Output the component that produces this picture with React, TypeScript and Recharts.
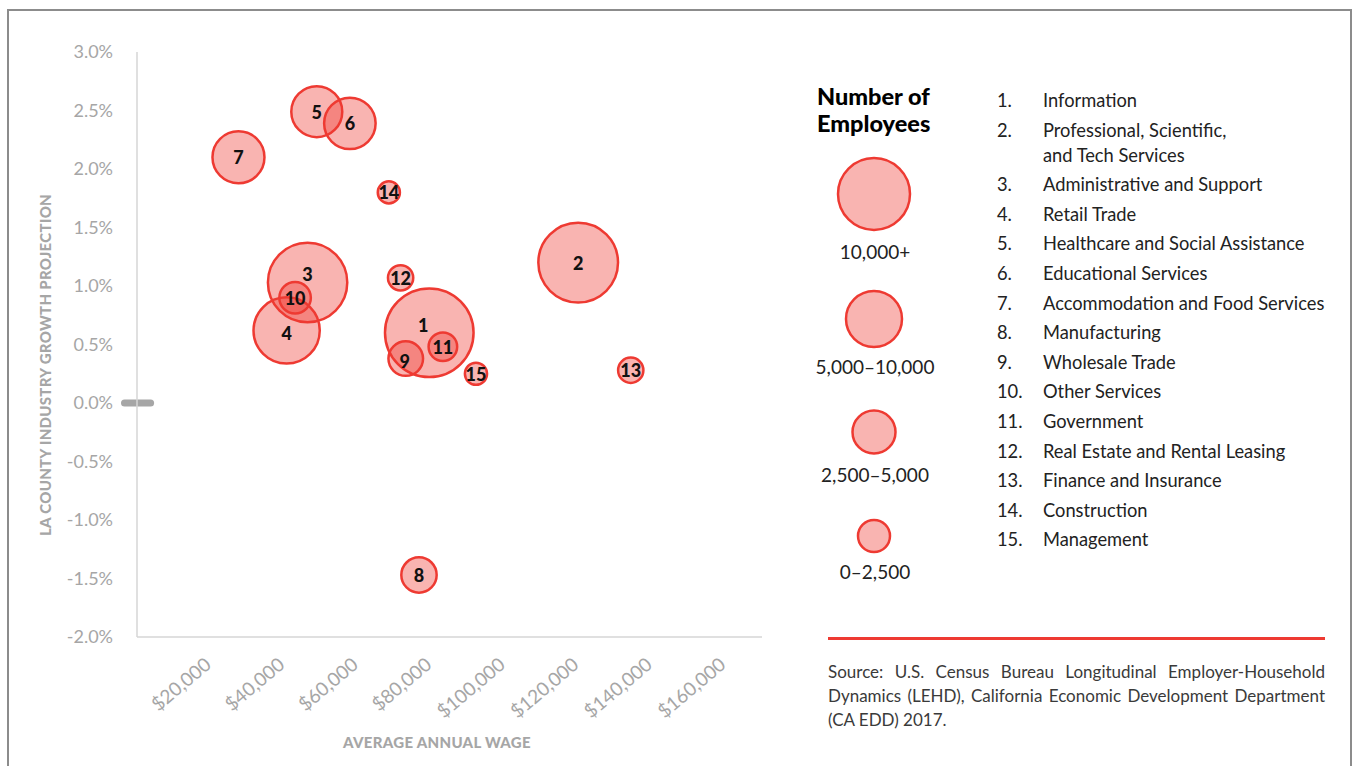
import React from "react"
import { ScatterChart, Scatter, XAxis, YAxis, ZAxis, ReferenceLine } from "recharts"

// industries, numbered 1..15 as in the side list
const industries = [
  "Information",
  "Professional, Scientific,\nand Tech Services",
  "Administrative and Support",
  "Retail Trade",
  "Healthcare and Social Assistance",
  "Educational Services",
  "Accommodation and Food Services",
  "Manufacturing",
  "Wholesale Trade",
  "Other Services",
  "Government",
  "Real Estate and Rental Leasing",
  "Finance and Insurance",
  "Construction",
  "Management",
]

// average annual wage ($)
const wages = [79500, 120000, 46400, 40700, 48900, 57900, 27600, 76700, 73100, 43000, 83200, 71700, 134300, 68500, 92200]
// LA county growth projection (%)
const growth = [0.6, 1.2, 1.03, 0.62, 2.49, 2.39, 2.1, -1.47, 0.38, 0.9, 0.48, 1.07, 0.28, 1.8, 0.25]
// number of employees (bubble size)
const employees = [15100, 12300, 12200, 8600, 5200, 5300, 5400, 2600, 2500, 2100, 1750, 1400, 1400, 1100, 1100]

const xTicks = [20000, 40000, 60000, 80000, 100000, 120000, 140000, 160000]
const yTicks = [-2, -1.5, -1, -0.5, 0, 0.5, 1, 1.5, 2, 2.5, 3]
const sizeTiers = ["10,000+", "5,000–10,000", "2,500–5,000", "0–2,500"]
// grey stub drawn on the 0% line
const zeroStub = [-3400, 3700]

const RED = "#ee3a32"
const GREY = "#a6a6a6"
const FONT = "Lato, 'Open Sans', sans-serif"

// small label offsets where smaller bubbles sit on top
const labelNudge: Record<number, [number, number]> = { 1: [-6, -8], 3: [0, -8], 4: [0, 3], 9: [-1, 2] }

// legend circle layout
const tierRadius = [36, 28, 21.5, 16]
const tierCy = [194, 319, 432, 536]
const tierLabelY = [251, 366, 474, 571]

const points = industries.map((name, i) => ({
  id: i + 1,
  name,
  wage: wages[i],
  growth: growth[i],
  employees: employees[i],
}))
// big bubbles first so small ones stay visible
const drawOrder = [...points].sort((a, b) => b.employees - a.employees)

const Bubble = (props: any) => {
  const { cx, cy, size, payload } = props
  const r = Math.sqrt(size / Math.PI) - 1.2
  const n = labelNudge[payload.id] || [0, 0]
  return (
    <g>
      <circle cx={cx} cy={cy} r={r} fill={RED} fillOpacity={0.38} stroke={RED} strokeWidth={2.5} />
      <text
        x={cx + n[0]}
        y={cy + n[1]}
        textAnchor="middle"
        dominantBaseline="central"
        fontSize={18}
        fontWeight={900}
        fill="#111"
      >
        {payload.id}
      </text>
    </g>
  )
}

const WageTick = ({ x, y, payload }: any) => (
  <text
    x={x - 3}
    y={y}
    transform={`rotate(-40, ${x - 3}, ${y})`}
    textAnchor="end"
    dominantBaseline="central"
    fontSize={19}
    fill={GREY}
  >
    {"$" + Number(payload.value).toLocaleString("en-US")}
  </text>
)

export default function App() {
  return (
    <div style={{ position: "absolute", left: 0, top: 0, width: 1353, height: 766, fontFamily: FONT, overflow: "hidden" }}>
      <div
        style={{
          position: "absolute",
          left: 7,
          top: 9,
          width: 1345,
          height: 800,
          boxSizing: "border-box",
          borderTop: "2px solid #8c8c8c",
          borderLeft: "2px solid #8c8c8c",
          borderRight: "2px solid #8c8c8c",
        }}
      />

      <div style={{ position: "absolute", left: 0, top: 0 }}>
        <ScatterChart width={800} height={766} margin={{ top: 52, right: 38, bottom: 69, left: 77 }}>
          <XAxis
            type="number"
            dataKey="wage"
            domain={[0, 170000]}
            ticks={xTicks}
            height={60}
            axisLine={{ stroke: "#d6d6d6", strokeWidth: 1.5 }}
            tickLine={false}
            tickMargin={18}
            tick={<WageTick />}
            interval={0}
          />
          <YAxis
            type="number"
            dataKey="growth"
            domain={[-2, 3]}
            ticks={yTicks}
            width={60}
            axisLine={{ stroke: "#d6d6d6", strokeWidth: 1.5 }}
            tickLine={false}
            tickMargin={18}
            interval={0}
            tick={{ fill: GREY, fontSize: 18 }}
            tickFormatter={(v: number) => `${v.toFixed(1)}%`}
          />
          <ZAxis type="number" dataKey="employees" domain={[0, 20000]} range={[0, (Math.PI * 20000) / 7.3]} />
          <ReferenceLine
            segment={[
              { x: zeroStub[0], y: 0 },
              { x: zeroStub[1], y: 0 },
            ]}
            ifOverflow="visible"
            stroke={GREY}
            strokeWidth={7}
            strokeLinecap="round"
          />
          <Scatter data={drawOrder} shape={<Bubble />} isAnimationActive={false} />
        </ScatterChart>
      </div>

      <div
        style={{
          position: "absolute",
          left: 45,
          top: 365,
          transform: "translate(-50%, -50%) rotate(-90deg)",
          whiteSpace: "nowrap",
          color: GREY,
          fontWeight: 900,
          fontSize: 15,
          letterSpacing: 0.3,
        }}
      >
        LA COUNTY INDUSTRY GROWTH PROJECTION
      </div>
      <div
        style={{
          position: "absolute",
          left: 437,
          top: 742,
          transform: "translate(-50%, -50%)",
          whiteSpace: "nowrap",
          color: GREY,
          fontWeight: 900,
          fontSize: 15,
          letterSpacing: 0.3,
        }}
      >
        AVERAGE ANNUAL WAGE
      </div>

      <div style={{ position: "absolute", left: 817, top: 83, fontSize: 23.5, fontWeight: 900, lineHeight: "27px", color: "#000" }}>
        Number of
        <br />
        Employees
      </div>
      <svg style={{ position: "absolute", left: 0, top: 0 }} width={1353} height={766} pointerEvents="none">
        {sizeTiers.map((t, i) => (
          <g key={t}>
            <circle cx={874} cy={tierCy[i]} r={tierRadius[i]} fill={RED} fillOpacity={0.38} stroke={RED} strokeWidth={2.5} />
            <text x={875} y={tierLabelY[i]} textAnchor="middle" dominantBaseline="central" fontSize={19} fill="#222">
              {t}
            </text>
          </g>
        ))}
      </svg>

      <div style={{ position: "absolute", left: 997, top: 88, fontSize: 18.3, color: "#222", lineHeight: "25px" }}>
        {industries.map((name, i) => (
          <div key={i} style={{ display: "flex", marginBottom: 4.6 }}>
            <div style={{ width: 46 }}>{i + 1}.</div>
            <div style={{ whiteSpace: "pre-line" }}>{name}</div>
          </div>
        ))}
      </div>

      <div style={{ position: "absolute", left: 828, top: 637, width: 497, height: 3, background: RED }} />
      <div style={{ position: "absolute", left: 828, top: 660, width: 497, fontSize: 17, lineHeight: "24px", color: "#3a3a3a" }}>
        <div style={{ textAlign: "justify", textAlignLast: "justify" }}>
          Source: U.S. Census Bureau Longitudinal Employer-Household
        </div>
        <div style={{ textAlign: "justify", textAlignLast: "justify" }}>
          Dynamics (LEHD), California Economic Development Department
        </div>
        <div>(CA EDD) 2017.</div>
      </div>
    </div>
  )
}
